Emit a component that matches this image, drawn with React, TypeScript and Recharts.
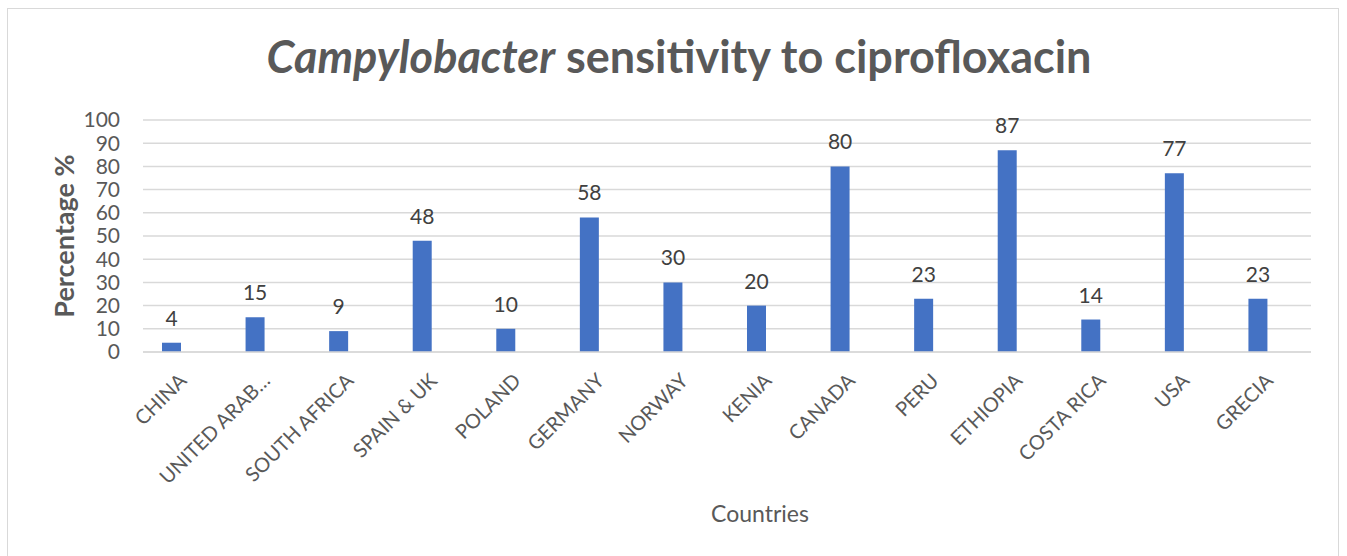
import React from "react";
import {
  BarChart,
  Bar,
  XAxis,
  YAxis,
  CartesianGrid,
  LabelList,
  Label,
} from "recharts";

const countries = [
  "CHINA",
  "UNITED ARAB…",
  "SOUTH AFRICA",
  "SPAIN & UK",
  "POLAND",
  "GERMANY",
  "NORWAY",
  "KENIA",
  "CANADA",
  "PERU",
  "ETHIOPIA",
  "COSTA RICA",
  "USA",
  "GRECIA",
];
const sensitivity = [4, 15, 9, 48, 10, 58, 30, 20, 80, 23, 87, 14, 77, 23];
const yTicks = [0, 10, 20, 30, 40, 50, 60, 70, 80, 90, 100];

const DATA = countries.map((country, i) => ({ country, value: sensitivity[i] }));

const FONT = "Lato, 'Open Sans', sans-serif";
const TEXT = "#595959";

const CountryTick = (props: any) => {
  const { x, y, payload } = props;
  return (
    <text
      transform={`translate(${x + 16},${y + 22}) rotate(-45)`}
      textAnchor="end"
      fill={TEXT}
      fontSize={20}
      fontFamily={FONT}
    >
      {payload.value}
    </text>
  );
};

export default function App() {
  return (
    <div
      style={{
        position: "absolute",
        left: 0,
        top: 0,
        width: 1347,
        height: 556,
        background: "#fff",
        fontFamily: FONT,
      }}
    >
      <div
        style={{
          position: "absolute",
          left: 7,
          top: 8,
          width: 1332,
          height: 560,
          border: "1px solid #d9d9d9",
          boxSizing: "border-box",
        }}
      />
      <div
        style={{
          position: "absolute",
          left: 0,
          top: 26,
          width: 1358,
          textAlign: "center",
          fontSize: 45,
          fontWeight: 700,
          color: TEXT,
          lineHeight: "60px",
        }}
      >
        <i>Campylobacter</i> sensitivity to ciprofloxacin
      </div>
      <BarChart
        width={1347}
        height={556}
        data={DATA}
        margin={{ top: 120, right: 36, bottom: 0, left: 0 }}
        barSize={19}
        style={{ position: "absolute", left: 0, top: 0 }}
      >
        <CartesianGrid vertical={false} stroke="#d9d9d9" strokeWidth={1.5} />
        <XAxis
          dataKey="country"
          interval={0}
          height={204}
          axisLine={{ stroke: "#d9d9d9", strokeWidth: 1.5 }}
          tickLine={false}
          padding={{ left: -13, right: 11 }}
          tick={<CountryTick />}
        >
          <Label
            value="Countries"
            position="insideBottom"
            offset={34}
            dx={33}
            fill={TEXT}
            fontSize={23}
            fontFamily={FONT}
          />
        </XAxis>
        <YAxis
          width={143}
          domain={[0, 100]}
          ticks={yTicks}
          interval={0}
          axisLine={false}
          tickLine={false}
          tickSize={0}
          tickMargin={23}
          tick={{ fill: TEXT, fontSize: 21, fontFamily: FONT }}
        >
          <Label
            content={({ viewBox }: any) => {
              const cy = viewBox.y + viewBox.height / 2;
              return (
                <text
                  x={63}
                  y={cy}
                  transform={`rotate(-90, 63, ${cy})`}
                  textAnchor="middle"
                  dominantBaseline="central"
                  fill={TEXT}
                  fontSize={27}
                  fontWeight={700}
                  fontFamily={FONT}
                >
                  Percentage %
                </text>
              );
            }}
          />
        </YAxis>
        <Bar dataKey="value" fill="#4472C4" isAnimationActive={false}>
          <LabelList
            dataKey="value"
            position="top"
            offset={17}
            fill="#404040"
            fontSize={21}
            fontFamily={FONT}
          />
        </Bar>
      </BarChart>
    </div>
  );
}
